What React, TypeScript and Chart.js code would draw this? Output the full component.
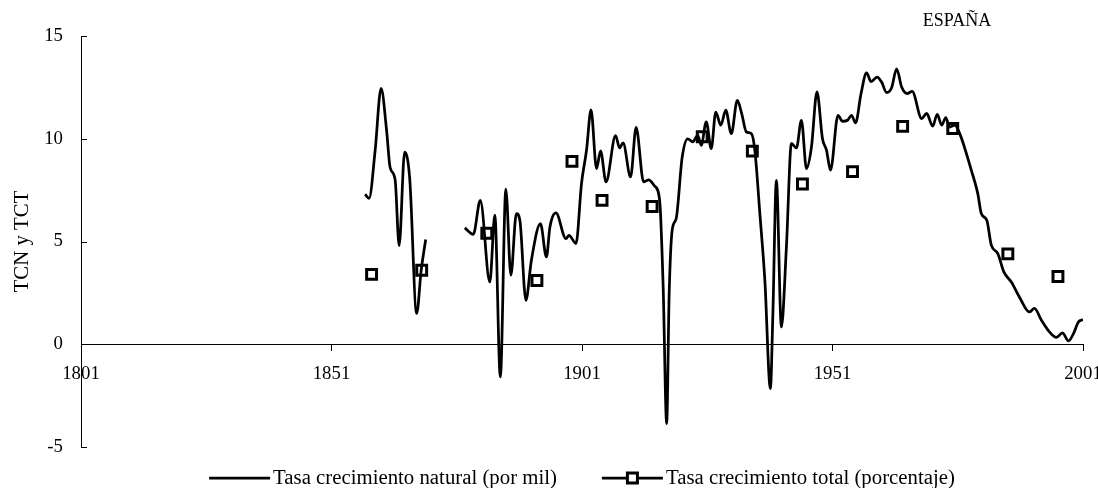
import React, { useEffect, useRef } from 'react';
import { Chart, registerables } from 'chart.js';

Chart.register(...registerables);

// ---- Data ----
const chartTitle = 'ESPAÑA';
const yAxisTitle = 'TCN y TCT';
const seriesNames = ['Tasa crecimiento natural (por mil)', 'Tasa crecimiento total (porcentaje)'];

// Natural growth rate (per thousand): years and values (null = gap in the series)
const natYears = [
  1857.7, 1858.5, 1859.7, 1860.9, 1862.0, 1862.7, 1863.7, 1864.5, 1865.6, 1866.6, 1868.0, 1868.9, 1869.8,
  1873.5,
  1877.6, 1879.3, 1880.7, 1882.6, 1883.6, 1884.7, 1885.8, 1886.8, 1887.9, 1888.6, 1889.8, 1890.9,
  1892.7, 1893.9, 1894.6, 1895.8, 1897.8, 1898.4, 1899.8, 1900.9, 1901.9, 1902.8, 1903.9, 1904.7,
  1905.8, 1907.7, 1908.5, 1909.2, 1910.7, 1911.8, 1913.3, 1914.3, 1915.5, 1916.5, 1917.2, 1917.9,
  1918.4, 1919.0, 1919.8, 1921.0, 1922.1, 1923.1, 1924.1, 1924.8, 1925.8, 1926.8, 1927.7, 1928.7,
  1929.7, 1930.8, 1932.0, 1932.9, 1933.8, 1934.8, 1935.5, 1936.5, 1937.5, 1938.6, 1939.1, 1939.8,
  1940.8, 1941.8, 1942.8, 1943.8, 1944.8, 1945.8, 1946.8, 1947.9, 1949.0, 1949.8, 1950.6, 1952.1,
  1953.0, 1954.0, 1954.8, 1955.6, 1956.7, 1957.8, 1958.7, 1959.9, 1960.8, 1961.8, 1962.8, 1963.8,
  1964.8, 1965.9, 1966.9, 1968.8, 1969.8, 1971.0, 1971.9, 1972.8, 1973.6, 1974.4, 1975.4, 1976.4,
  1978.7, 1980.0, 1980.7, 1981.8, 1982.7, 1984.0, 1985.2, 1986.7, 1988.3, 1990.3, 1991.3, 1992.7,
  1994.3, 1995.7, 1996.9, 1998.1, 1999.1, 2000.1, 2001.0,
];
const natValues = [
  7.3, 7.1, 9.4, 12.45, 10.4, 8.6, 8.0, 4.8, 9.35, 8.1, 1.5, 3.6, 5.1,
  null,
  5.66, 5.35, 7.0, 3.03, 6.28, -1.59, 7.55, 3.36, 6.36, 6.03, 2.14, 4.09,
  5.87, 4.25, 5.71, 6.39, 5.14, 5.3, 4.9, 7.82, 9.44, 11.4, 8.55, 9.41,
  7.9, 10.15, 9.55, 9.8, 8.14, 10.55, 7.9, 8.0, 7.7, 7.0, 2.8, -3.86,
  2.47, 5.55, 6.12, 9.11, 10.0, 9.85, 10.17, 9.68, 10.82, 9.52, 11.3, 10.66,
  11.39, 10.25, 11.87, 11.2, 10.33, 10.25, 9.44, 6.36, 3.11, -2.16, 1.49, 7.98,
  0.84, 4.73, 9.77, 9.55, 10.9, 8.55, 9.6, 12.28, 10.0, 9.44, 8.47, 11.14,
  10.85, 10.9, 11.14, 10.77, 12.2, 13.2, 12.78, 13.0, 12.76, 12.25, 12.48, 13.4,
  12.52, 12.2, 12.3, 10.98, 11.23, 10.61, 11.19, 10.66, 11.03, 10.57, 10.66, 10.25,
  8.47, 7.33, 6.36, 6.03, 4.82, 4.41, 3.52, 3.03, 2.3, 1.57, 1.74, 1.17,
  0.6, 0.33, 0.55, 0.16, 0.52, 1.09, 1.2,
];

// Total growth rate (percent)
const totYears = [1859, 1869, 1882, 1892, 1899, 1905, 1915, 1925, 1935, 1945, 1955, 1965, 1975, 1986, 1996];
const totValues = [3.4, 3.6, 5.4, 3.1, 8.9, 7.0, 6.7, 10.1, 9.4, 7.8, 8.4, 10.6, 10.5, 4.4, 3.3];

const xTickYears = [1801, 1851, 1901, 1951, 2001];
const yMin = -5;
const yMax = 15;
const yStep = 5;

const FONT = '"Liberation Serif", "Times New Roman", serif';

const decorPlugin = {
  id: 'decor',
  afterDraw(chart: any) {
    const { ctx, chartArea } = chart;
    const ys = chart.scales.y;
    ctx.save();
    // inward tick marks on the y axis
    ctx.strokeStyle = '#000';
    ctx.lineWidth = 1;
    for (const t of ys.ticks) {
      const py = Math.round(ys.getPixelForValue(t.value)) + 0.5;
      ctx.beginPath();
      ctx.moveTo(chartArea.left, py);
      ctx.lineTo(chartArea.left + 6, py);
      ctx.stroke();
    }
    // title at top right
    ctx.fillStyle = '#000';
    ctx.font = `18px ${FONT}`;
    ctx.textAlign = 'center';
    ctx.textBaseline = 'alphabetic';
    ctx.fillText(chartTitle, chartArea.right - 126, 26);

    // legend at the bottom
    ctx.font = `20.8px ${FONT}`;
    ctx.textAlign = 'left';
    ctx.textBaseline = 'middle';
    const lineLen = 61;
    const gapText = 3;
    const gapItems = 45;
    const w1 = ctx.measureText(seriesNames[0]).width;
    const w2 = ctx.measureText(seriesNames[1]).width;
    const total = lineLen + gapText + w1 + gapItems + lineLen + gapText + w2;
    const cx = (chartArea.left + chartArea.right) / 2;
    let x = cx - total / 2;
    const ly = 478;
    ctx.lineWidth = 2.75;
    ctx.beginPath();
    ctx.moveTo(x, ly);
    ctx.lineTo(x + lineLen, ly);
    ctx.stroke();
    ctx.fillText(seriesNames[0], x + lineLen + gapText, ly + 1);
    x += lineLen + gapText + w1 + gapItems;
    ctx.beginPath();
    ctx.moveTo(x, ly);
    ctx.lineTo(x + lineLen, ly);
    ctx.stroke();
    const s = 10;
    ctx.fillStyle = '#fff';
    ctx.fillRect(x + lineLen / 2 - s / 2, ly - s / 2, s, s);
    ctx.lineWidth = 3;
    ctx.strokeRect(x + lineLen / 2 - s / 2, ly - s / 2, s, s);
    ctx.fillStyle = '#000';
    ctx.fillText(seriesNames[1], x + lineLen + gapText, ly + 1);
    ctx.restore();
  },
};

export default function App() {
  const canvasRef = useRef<HTMLCanvasElement>(null);

  useEffect(() => {
    if (!canvasRef.current) return;
    Chart.defaults.font.family = FONT;
    const natData = natYears.map((x, i) => ({ x, y: natValues[i] }));
    const totData = totYears.map((x, i) => ({ x, y: totValues[i] }));
    const chart = new Chart(canvasRef.current, {
      type: 'line',
      data: {
        datasets: [
          {
            label: seriesNames[0],
            data: natData as any,
            borderColor: '#000',
            borderWidth: 2.75,
            pointRadius: 0,
            cubicInterpolationMode: 'monotone',
            spanGaps: false,
            fill: false,
            order: 2,
          },
          {
            label: seriesNames[1],
            data: totData as any,
            showLine: false,
            pointStyle: 'rect',
            pointRadius: 7,
            pointBorderWidth: 3,
            pointBorderColor: '#000',
            pointBackgroundColor: 'rgba(0,0,0,0)',
            borderColor: '#000',
            order: 1,
          },
        ],
      },
      options: {
        responsive: false,
        devicePixelRatio: 1,
        animation: false,
        layout: { padding: { top: 36, bottom: 41, left: 0, right: 15 } },
        plugins: {
          legend: { display: false },
          title: { display: false },
          tooltip: { enabled: false },
        },
        scales: {
          x: {
            type: 'linear',
            min: 1801,
            max: 2001,
            position: { y: 0 } as any,
            afterBuildTicks: (s: any) => {
              s.ticks = xTickYears.map((v) => ({ value: v }));
            },
            afterFit: (s: any) => {
              s.height = 0;
              s.paddingLeft = 0;
              s.paddingRight = 0;
            },
            grid: { drawOnChartArea: false, drawTicks: true, tickLength: 6, color: '#000', lineWidth: 1 },
            border: { display: true, color: '#000', width: 1 },
            ticks: {
              padding: 13,
              color: '#000',
              font: { size: 18.8 },
              autoSkip: false,
              maxRotation: 0,
              callback: (v: any) => String(v),
            },
          },
          y: {
            type: 'linear',
            min: yMin,
            max: yMax,
            position: 'left',
            afterFit: (s: any) => {
              s.width = 81;
            },
            grid: { drawOnChartArea: false, drawTicks: false },
            border: { display: true, color: '#000', width: 1 },
            ticks: {
              stepSize: yStep,
              padding: 18,
              color: '#000',
              font: { size: 18.8 },
              callback: (v: any) => String(v),
            },
            title: {
              display: true,
              text: yAxisTitle,
              color: '#000',
              font: { size: 20.8 },
              padding: { top: 10.5, bottom: 0 },
            },
          },
        },
      },
      plugins: [decorPlugin],
    });
    return () => chart.destroy();
  }, []);

  return (
    <div style={{ position: 'fixed', left: 0, top: 0, width: 1098, height: 488, background: '#fff' }}>
      <canvas ref={canvasRef} width={1098} height={488} style={{ width: 1098, height: 488, display: 'block' }} />
    </div>
  );
}
